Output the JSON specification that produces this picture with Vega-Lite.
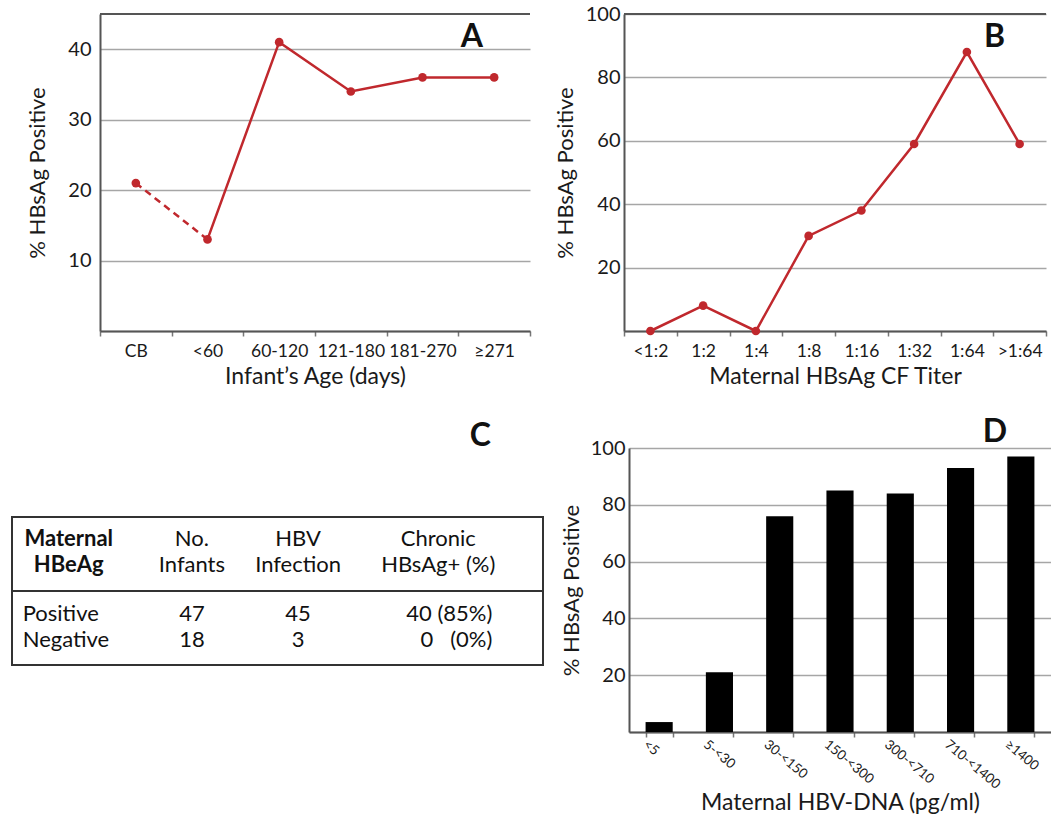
{
  "$schema": "https://vega.github.io/schema/vega-lite/v6.json",
  "padding": {"left": 10, "top": 4, "right": 0, "bottom": 0},
  "background": "white",
  "config": {
    "font": "Lato",
    "view": {"stroke": null},
    "axis": {
      "labelFont": "Lato", "titleFont": "Lato", "labelColor": "#1a1a1a", "titleColor": "#1a1a1a",
      "titleFontWeight": "normal", "domainColor": "#555", "domainWidth": 2, "tickColor": "#777",
      "tickWidth": 1.5, "gridColor": "#a6a6a6", "gridWidth": 1.5
    },
    "title": {"font": "Lato", "fontSize": 32, "fontWeight": "bold", "color": "#111", "anchor": "end", "frame": "group", "baseline": "alphabetic", "offset": 0}
  },
  "spacing": 27,
  "vconcat": [
    {
      "spacing": 23,
      "hconcat": [
        {
          "spacing": 13,
          "hconcat": [
            {"width": 1, "height": 1, "data": {"values": [{}]}, "mark": {"type": "text", "text": ""}, "encoding": {}},
            {
              "width": 430, "height": 317,
              "title": {"text": "A", "dx": -47, "dy": 45},
              "data": {"values": [
                {"age": "CB", "pct": 21}, {"age": "<60", "pct": 13}, {"age": "60-120", "pct": 41},
                {"age": "121-180", "pct": 34}, {"age": "181-270", "pct": 36}, {"age": "≥271", "pct": 36}
              ]},
              "layer": [
                {
                  "transform": [{"filter": "datum.age == 'CB' || datum.age == '<60'"}],
                  "mark": {"type": "line", "color": "#c0282d", "strokeWidth": 2.5, "strokeDash": [7, 5]},
                  "encoding": {
                    "x": {"field": "age", "type": "nominal", "sort": null,
                      "scale": {"type": "band", "paddingInner": 0, "paddingOuter": 0, "domain": ["CB", "<60", "60-120", "121-180", "181-270", "≥271"]},
                      "axis": {"title": "Infant’s Age (days)", "labelAngle": 0, "labelFontSize": 17.5, "titleFontSize": 23, "tickBand": "extent", "tickSize": 5, "labelPadding": 6, "titlePadding": 6, "grid": false}},
                    "y": {"field": "pct", "type": "quantitative", "scale": {"domain": [0, 45], "nice": false, "zero": true},
                      "axis": {"title": "% HBsAg Positive", "values": [0, 5, 10, 15, 20, 25, 30, 35, 40, 45],
                        "labelExpr": "datum.value > 0 && datum.value % 10 == 0 ? datum.label : ''",
                        "ticks": false, "labelPadding": 9, "titlePadding": 18, "labelFontSize": 20, "titleFontSize": 22, "grid": true}}
                  }
                },
                {
                  "transform": [{"filter": "datum.age != 'CB'"}],
                  "mark": {"type": "line", "color": "#c0282d", "strokeWidth": 2.5},
                  "encoding": {
                    "x": {"field": "age", "type": "nominal", "sort": null},
                    "y": {"field": "pct", "type": "quantitative"}
                  }
                },
                {
                  "mark": {"type": "circle", "color": "#c0282d", "size": 75, "opacity": 1},
                  "encoding": {
                    "x": {"field": "age", "type": "nominal", "sort": null},
                    "y": {"field": "pct", "type": "quantitative"}
                  }
                },
                {
                  "data": {"values": [{}]},
                  "mark": {"type": "rule", "color": "#555", "strokeWidth": 2},
                  "encoding": {"y": {"datum": 45, "type": "quantitative"}}
                }
              ]
            }
          ]
        },
        {
          "width": 422, "height": 317,
          "title": {"text": "B", "dx": -41, "dy": 54},
          "data": {"values": [
            {"titer": "<1:2", "pct": 0}, {"titer": "1:2", "pct": 8}, {"titer": "1:4", "pct": 0},
            {"titer": "1:8", "pct": 30}, {"titer": "1:16", "pct": 38}, {"titer": "1:32", "pct": 59},
            {"titer": "1:64", "pct": 88}, {"titer": ">1:64", "pct": 59}
          ]},
          "layer": [
            {
              "mark": {"type": "line", "color": "#c0282d", "strokeWidth": 2.5},
              "encoding": {
                "x": {"field": "titer", "type": "nominal", "sort": null,
                  "scale": {"type": "band", "paddingInner": 0, "paddingOuter": 0, "domain": ["<1:2", "1:2", "1:4", "1:8", "1:16", "1:32", "1:64", ">1:64"]},
                  "axis": {"title": "Maternal HBsAg CF Titer", "labelAngle": 0, "labelFontSize": 17.5, "titleFontSize": 23, "tickBand": "extent", "tickSize": 5, "labelPadding": 6, "titlePadding": 6, "grid": false}},
                "y": {"field": "pct", "type": "quantitative", "scale": {"domain": [0, 100], "nice": false},
                  "axis": {"title": "% HBsAg Positive", "values": [0, 10, 20, 30, 40, 50, 60, 70, 80, 90, 100],
                    "labelExpr": "datum.value > 0 && datum.value % 20 == 0 ? datum.label : ''",
                    "ticks": false, "labelPadding": 4, "titlePadding": 8, "labelFontSize": 20, "titleFontSize": 22, "grid": true}}
              }
            },
            {
              "mark": {"type": "circle", "color": "#c0282d", "size": 75, "opacity": 1},
              "encoding": {
                "x": {"field": "titer", "type": "nominal", "sort": null},
                "y": {"field": "pct", "type": "quantitative"}
              }
            },
            {
              "data": {"values": [{}]},
              "mark": {"type": "rule", "color": "#555", "strokeWidth": 2},
              "encoding": {"y": {"datum": 100, "type": "quantitative"}}
            }
          ]
        }
      ]
    },
    {
      "spacing": 15,
      "hconcat": [
        {
          "spacing": 62,
          "vconcat": [
            {"width": 531, "height": 1, "title": {"text": "C", "dx": -52, "dy": 14}, "data": {"values": [{}]}, "mark": {"type": "text", "text": ""}, "encoding": {}},
            {
              "width": 531, "height": 148,
              "view": {"stroke": "#333", "strokeWidth": 2},
              "data": {"values": [
                {"line": "h1", "col": "HBeAg", "text": "Maternal"},
                {"line": "h2", "col": "HBeAg", "text": "HBeAg"},
                {"line": "h1", "col": "Infants", "text": "No."},
                {"line": "h2", "col": "Infants", "text": "Infants"},
                {"line": "h1", "col": "Infection", "text": "HBV"},
                {"line": "h2", "col": "Infection", "text": "Infection"},
                {"line": "h1", "col": "Chronic", "text": "Chronic"},
                {"line": "h2", "col": "Chronic", "text": "HBsAg+ (%)"},
                {"line": "Positive", "col": "HBeAg", "text": "Positive"},
                {"line": "Positive", "col": "Infants", "text": "47"},
                {"line": "Positive", "col": "Infection", "text": "45"},
                {"line": "Positive", "col": "Chronic", "text": "40 (85%)"},
                {"line": "Negative", "col": "HBeAg", "text": "Negative"},
                {"line": "Negative", "col": "Infants", "text": "18"},
                {"line": "Negative", "col": "Infection", "text": "3"},
                {"line": "Negative", "col": "Chronic", "text": "0\u00a0\u00a0 (0%)"}
              ]},
              "layer": [
                {
                  "transform": [{"filter": "datum.col == 'HBeAg' && (datum.line == 'h1' || datum.line == 'h2')"}],
                  "mark": {"type": "text", "fontSize": 22, "fontWeight": "bold", "align": "center", "baseline": "middle", "dx": -17, "dy": 0, "color": "#111"},
                  "encoding": {
                    "x": {"field": "col", "type": "nominal", "scale": {"type": "point", "domain": ["HBeAg", "Infants", "Infection", "Chronic"], "padding": 1.0286, "align": 0.347}, "axis": null},
                    "y": {"field": "line", "type": "nominal", "scale": {"type": "point", "domain": ["h1", "h2", "sep", "Positive", "Negative"], "padding": 0.85}, "axis": null},
                    "text": {"field": "text"}
                  }
                },
                {
                  "transform": [{"filter": "datum.col == 'HBeAg' && (datum.line == 'Positive' || datum.line == 'Negative')"}],
                  "mark": {"type": "text", "fontSize": 22, "align": "left", "baseline": "middle", "dx": -63, "dy": -3, "color": "#111"},
                  "encoding": {
                    "x": {"field": "col", "type": "nominal"},
                    "y": {"field": "line", "type": "nominal"},
                    "text": {"field": "text"}
                  }
                },
                {
                  "transform": [{"filter": "(datum.col == 'Infants' || datum.col == 'Infection') && (datum.line == 'h1' || datum.line == 'h2')"}],
                  "mark": {"type": "text", "fontSize": 22, "align": "center", "baseline": "middle", "dy": 0, "color": "#111"},
                  "encoding": {
                    "x": {"field": "col", "type": "nominal"},
                    "y": {"field": "line", "type": "nominal"},
                    "text": {"field": "text"}
                  }
                },
                {
                  "transform": [{"filter": "(datum.col == 'Infants' || datum.col == 'Infection') && (datum.line == 'Positive' || datum.line == 'Negative')"}],
                  "mark": {"type": "text", "fontSize": 22, "align": "center", "baseline": "middle", "dy": -3, "color": "#111"},
                  "encoding": {
                    "x": {"field": "col", "type": "nominal"},
                    "y": {"field": "line", "type": "nominal"},
                    "text": {"field": "text"}
                  }
                },
                {
                  "transform": [{"filter": "datum.col == 'Chronic' && (datum.line == 'h1' || datum.line == 'h2')"}],
                  "mark": {"type": "text", "fontSize": 22, "align": "center", "baseline": "middle", "dx": 34, "dy": 0, "color": "#111"},
                  "encoding": {
                    "x": {"field": "col", "type": "nominal"},
                    "y": {"field": "line", "type": "nominal"},
                    "text": {"field": "text"}
                  }
                },
                {
                  "transform": [{"filter": "datum.col == 'Chronic' && (datum.line == 'Positive' || datum.line == 'Negative')"}],
                  "mark": {"type": "text", "fontSize": 22, "align": "right", "baseline": "middle", "dx": 88, "dy": -3, "color": "#111"},
                  "encoding": {
                    "x": {"field": "col", "type": "nominal"},
                    "y": {"field": "line", "type": "nominal"},
                    "text": {"field": "text"}
                  }
                },
                {
                  "data": {"values": [{}]},
                  "mark": {"type": "rule", "color": "#333", "strokeWidth": 2},
                  "encoding": {"y": {"datum": "sep", "type": "nominal"}}
                }
              ]
            }
          ]
        },
        {
          "width": 422, "height": 284,
          "title": {"text": "D", "dx": -44, "dy": 15},
          "data": {"values": [
            {"dna": "<5", "pct": 3.5}, {"dna": "5-<30", "pct": 21}, {"dna": "30-<150", "pct": 76},
            {"dna": "150-<300", "pct": 85}, {"dna": "300-<710", "pct": 84}, {"dna": "710-<1400", "pct": 93},
            {"dna": "≥1400", "pct": 97}
          ]},
          "mark": {"type": "bar", "color": "#000"},
          "encoding": {
            "x": {"field": "dna", "type": "nominal", "sort": null,
              "scale": {"type": "band", "paddingInner": 0.55, "paddingOuter": 0.275, "domain": ["<5", "5-<30", "30-<150", "150-<300", "300-<710", "710-<1400", "≥1400"]},
              "axis": {"title": "Maternal HBV-DNA (pg/ml)", "labelAngle": 40, "labelAlign": "left", "labelBaseline": "top", "labelOffset": -10, "labelFontSize": 13.5, "titleFontSize": 23, "tickBand": "extent", "tickSize": 5, "labelPadding": 0, "titlePadding": 1, "grid": false}},
            "y": {"field": "pct", "type": "quantitative", "scale": {"domain": [0, 100], "nice": false},
              "axis": {"title": "% HBsAg Positive", "values": [0, 20, 40, 60, 80, 100],
                "labelExpr": "datum.value > 0 ? datum.label : ''",
                "ticks": false, "labelPadding": 4, "titlePadding": 7, "labelFontSize": 20, "titleFontSize": 22, "grid": true}}
          }
        }
      ]
    }
  ]
}
